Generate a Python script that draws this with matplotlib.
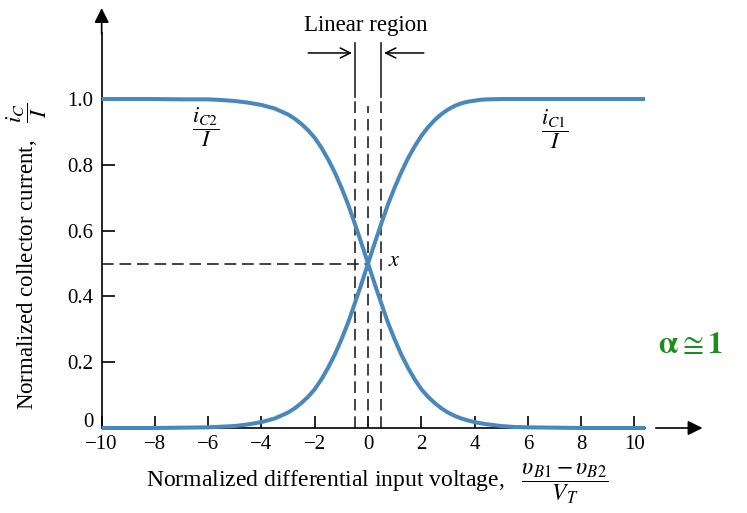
import matplotlib
matplotlib.use("Agg")
import matplotlib.pyplot as plt
from matplotlib.transforms import ScaledTranslation

plt.rcParams['font.family'] = ['Liberation Serif', 'DejaVu Serif']
plt.rcParams['mathtext.fontset'] = 'stix'

# values
vd = [-10, -8, -7, -6, -5.5, -5, -4.5, -4, -3.5, -3, -2.75, -2.5, -2.25, -2, -1.75, -1.5,
      -1.25, -1, -0.75, -0.5, -0.25, 0, 0.25, 0.5, 0.75, 1, 1.25, 1.5, 1.75, 2, 2.25, 2.5,
      2.75, 3, 3.25, 3.5, 3.75, 4, 4.25, 4.5, 5, 5.5, 6, 7, 8, 10.4]
ic1 = [0, 0, 0.001, 0.002, 0.004, 0.006, 0.011, 0.018, 0.029, 0.047, 0.06, 0.076, 0.095, 0.118,
       0.148, 0.183, 0.223, 0.269, 0.32, 0.378, 0.438, 0.5, 0.562, 0.622, 0.68, 0.731, 0.778,
       0.82, 0.856, 0.888, 0.914, 0.936, 0.954, 0.968, 0.979, 0.987, 0.992, 0.995, 0.998, 0.999,
       1, 1, 1, 1, 1, 1]
ic2 = [1, 1, 0.999, 0.999, 0.997, 0.994, 0.989, 0.982, 0.971, 0.953, 0.94, 0.924, 0.905, 0.882,
       0.852, 0.817, 0.777, 0.731, 0.68, 0.622, 0.562, 0.5, 0.438, 0.378, 0.32, 0.269, 0.223,
       0.183, 0.148, 0.118, 0.095, 0.076, 0.06, 0.047, 0.037, 0.029, 0.023, 0.018, 0.014, 0.011,
       0.006, 0.003, 0.002, 0.001, 0, 0]

xticks = [-10, -8, -6, -4, -2, 0, 2, 4, 6, 8, 10]
xtick_labels = ['\u221210', '\u22128', '\u22126', '\u22124', '\u22122', '0', '2', '4', '6', '8', '10']
yticks = [0, 0.2, 0.4, 0.6, 0.8, 1.0]
ytick_labels = ['0', '0.2', '0.4', '0.6', '0.8', '1.0']
linear_edges = [-0.5, 0.5]

blue = '#4a88bb'
dash = (0, (7, 3.5))

fig = plt.figure(figsize=(7.47, 5.13), dpi=100)
ax = fig.add_axes([0.1361, 0.1657, 0.8116, 0.8285])
ax.set_xlim(-10, 12.76)
ax.set_ylim(0, 1.292)

for s in ['top', 'right']:
    ax.spines[s].set_visible(False)
ax.spines['bottom'].set_bounds(-10, 10.4)
ax.spines['left'].set_bounds(0, 1.2)
ax.spines['bottom'].set_linewidth(1.2)
ax.spines['left'].set_linewidth(1.2)

ax.set_xticks(xticks)
ax.set_xticklabels(xtick_labels, fontsize=15)
ax.set_yticks(yticks)
ax.set_yticklabels(ytick_labels, fontsize=15)
ax.tick_params(axis='both', direction='in', length=9, width=1.2)
ax.tick_params(axis='x', pad=5)
ax.tick_params(axis='y', pad=6)
# lift the "0" a little, as in the original, so it clears the -10
zero = ax.get_yticklabels()[0]
zero.set_transform(zero.get_transform() + ScaledTranslation(0, 6 / 72, fig.dpi_scale_trans))

# axis arrows
ax.annotate('', xy=(-10, 1.285), xytext=(-10, 1.19),
            arrowprops=dict(arrowstyle='-|>', color='black', lw=1.2, mutation_scale=22),
            annotation_clip=False)
ax.annotate('', xy=(12.66, 0), xytext=(10.7, 0),
            arrowprops=dict(arrowstyle='-|>', color='black', lw=1.2, mutation_scale=22),
            annotation_clip=False)

# curves
ax.plot(vd, ic1, color=blue, lw=2.9, clip_on=False, solid_capstyle='butt',
        solid_joinstyle='round', zorder=3)
ax.plot(vd, ic2, color=blue, lw=2.9, clip_on=False, solid_capstyle='butt',
        solid_joinstyle='round', zorder=3)

# dashed guides
ax.plot([-10, 0], [0.5, 0.5], color='#222222', lw=1.2, ls=dash)
ax.plot([0, 0], [0, 0.98], color='#222222', lw=1.2, ls=dash)
for e in linear_edges:
    ax.plot([e, e], [0, 1.005], color='#222222', lw=1.2, ls=dash)
    ax.plot([e, e], [1.005, 1.17], color='#222222', lw=1.2)

# linear region arrows
ax.annotate('', xy=(-0.5, 1.14), xytext=(-2.35, 1.14),
            arrowprops=dict(arrowstyle='->', color='black', lw=1.1, mutation_scale=18))
ax.annotate('', xy=(0.5, 1.14), xytext=(2.2, 1.14),
            arrowprops=dict(arrowstyle='->', color='black', lw=1.1, mutation_scale=18))
ax.text(-0.1, 1.225, 'Linear region', fontsize=16.5, ha='center', va='center')

ax.text(0.75, 0.505, r'$x$', fontsize=16, ha='left', va='center')
ax.text(-6.1, 0.915, r'$\dfrac{i_{C2}}{I}$', fontsize=16, ha='center', va='center')
ax.text(7.0, 0.91, r'$\dfrac{i_{C1}}{I}$', fontsize=16, ha='center', va='center')

fig.text(0.036, 0.5, r'Normalized collector current,   $\dfrac{i_C}{I}$', fontsize=16.5,
         rotation=90, ha='center', va='center')
fig.text(0.505, 0.058, r'Normalized differential input voltage,   $\dfrac{\upsilon_{B1}-\upsilon_{B2}}{V_T}$',
         fontsize=17, ha='center', va='center')

fig.text(0.924, 0.327, r'$\mathbf{\alpha} \cong \mathbf{1}$', fontsize=22, color='#1e8c1e',
         ha='center', va='center')

fig.savefig('out.png', dpi=100)
